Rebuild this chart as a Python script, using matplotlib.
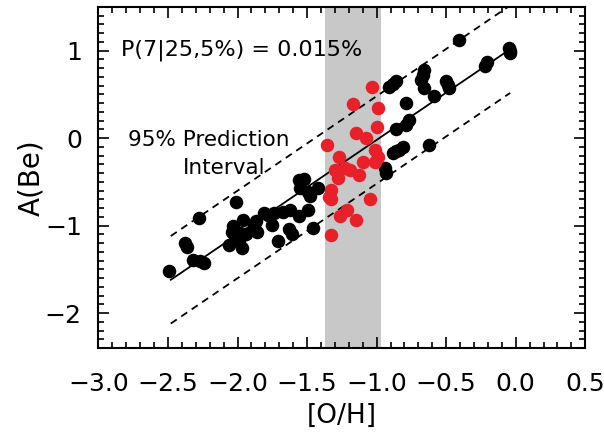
import matplotlib
matplotlib.use("Agg")
import matplotlib.pyplot as plt
import numpy as np
from matplotlib.ticker import MultipleLocator

# black points: [O/H], A(Be)
black_x = [-2.49, -2.38, -2.36, -2.28, -2.32, -2.24, -2.27,
           -2.01, -2.03, -2.04, -2.06, -2.00, -2.02, -1.98, -1.96, -1.97, -1.99, -1.94,
           -1.87, -1.86, -1.88, -1.81, -1.75, -1.74, -1.71, -1.67, -1.62, -1.63, -1.61, -1.78,
           -1.56, -1.52, -1.55, -1.56, -1.49, -1.48, -1.42, -1.46, -1.49,
           -0.94, -0.93, -0.91, -0.88, -0.86, -0.86, -0.88, -0.84, -0.81, -0.86,
           -0.79, -0.77, -0.79, -0.66, -0.67, -0.68, -0.66, -0.59, -0.62,
           -0.50, -0.48, -0.49, -0.41, -0.22, -0.21, -0.05, -0.04, -0.04]
black_y = [-1.52, -1.20, -1.24, -0.91, -1.39, -1.43, -1.40,
           -0.73, -1.00, -1.07, -1.22, -1.15, -1.12, -1.08, -0.93, -1.26, -1.18, -1.10,
           -0.95, -1.07, -1.00, -0.86, -0.99, -0.86, -1.17, -0.84, -0.82, -1.04, -1.10, -0.88,
           -0.48, -0.47, -0.57, -0.89, -0.82, -0.66, -0.57, -1.03, -0.62,
           -0.34, -0.40, 0.59, 0.62, 0.65, 0.11, -0.17, -0.13, -0.10, -0.15,
           0.40, 0.21, 0.15, 0.78, 0.72, 0.67, 0.57, 0.48, -0.08,
           0.65, 0.57, 0.61, 1.12, 0.82, 0.87, 1.03, 0.97, 1.00]

# red points inside the [O/H] window
red_x = [-1.03, -1.17, -0.99, -1.36, -1.15, -1.08, -1.00, -1.01, -1.27, -1.10,
         -1.01, -1.30, -1.23, -1.19, -1.13, -1.28, -1.33, -1.34, -1.33, -1.05,
         -1.21, -1.26, -1.15, -1.33, -0.99]
red_y = [0.58, 0.39, 0.34, -0.08, 0.06, 0.00, 0.13, -0.13, -0.21, -0.27,
         -0.27, -0.36, -0.34, -0.36, -0.42, -0.46, -0.59, -0.67, -0.70, -0.69,
         -0.82, -0.89, -0.93, -1.11, -0.21]

# fit and prediction band
fit_slope = 1.08
fit_icpt = 1.06
pred_half = 0.5
fit_xrange = [-2.48, -0.04]
band_x = [-1.37, -0.97]

fig = plt.figure(figsize=(6.04, 4.32), dpi=100)
ax = fig.add_axes([0.163, 0.194, 0.806, 0.79])

ax.axvspan(band_x[0], band_x[1], color="#c8c8c8", lw=0, zorder=0)

fx = np.array(fit_xrange)
fy = fit_slope * fx + fit_icpt
ax.plot(fx, fy, color="black", lw=1.3, zorder=2)
ax.plot(fx, fy + pred_half, color="black", lw=1.3, ls=(0, (4, 3)), zorder=2)
ax.plot(fx, fy - pred_half, color="black", lw=1.3, ls=(0, (4, 3)), zorder=2)

ax.scatter(black_x, black_y, s=95, color="black", lw=0, zorder=3)
ax.scatter(red_x, red_y, s=95, color="#e8202a", lw=0, zorder=4)

ax.text(-2.84, 1.01, "P(7|25,5%) = 0.015%", fontsize=16, va="center", ha="left")
ax.text(-2.79, -0.02, "95% Prediction", fontsize=15.5, va="center", ha="left")
ax.text(-2.39, -0.34, "Interval", fontsize=15.5, va="center", ha="left")

ax.set_xlim(-3.0, 0.5)
ax.set_ylim(-2.4, 1.5)
ax.xaxis.set_major_locator(MultipleLocator(0.5))
ax.xaxis.set_minor_locator(MultipleLocator(0.1))
ax.yaxis.set_major_locator(MultipleLocator(1))
ax.yaxis.set_minor_locator(MultipleLocator(0.1))
ax.xaxis.set_major_formatter(plt.FuncFormatter(lambda v, p: f"{v:.1f}".replace("-", "\u2212")))
ax.tick_params(which="both", direction="in", top=True, right=True, width=1.2)
ax.tick_params(which="major", length=8, labelsize=18)
ax.tick_params(axis="x", which="major", pad=17)
ax.tick_params(axis="y", which="major", pad=12)
ax.tick_params(which="minor", length=4)
for sp in ax.spines.values():
    sp.set_linewidth(1.5)

ax.set_xlabel("[O/H]", fontsize=19, labelpad=5)
ax.set_ylabel("A(Be)", fontsize=20, labelpad=0)

fig.savefig("out.png", dpi=100, facecolor="white")
